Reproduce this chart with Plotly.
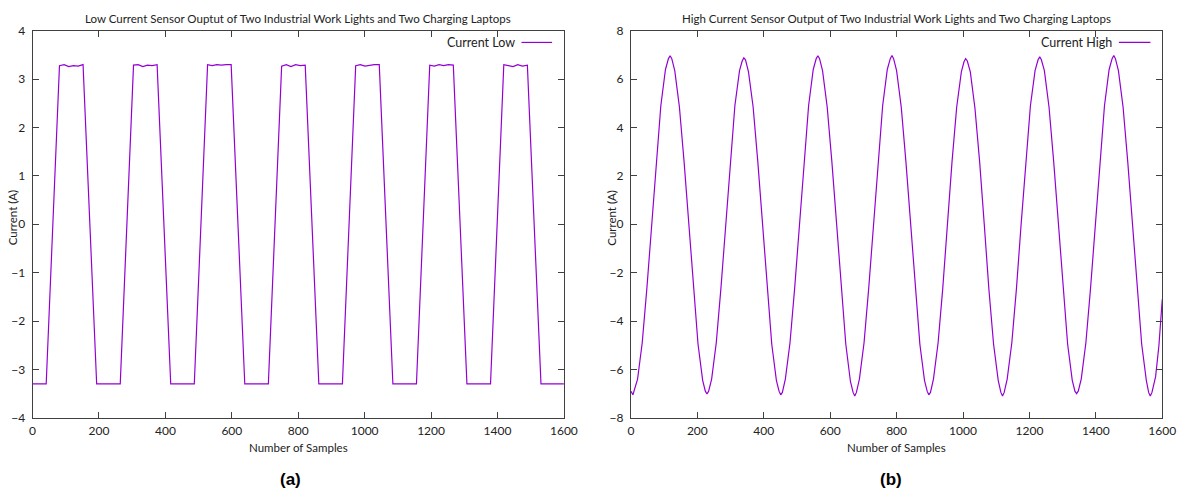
import plotly.graph_objects as go

W, H = 1194, 498

# ---------------- data ----------------
low_x = [0, 41, 81, 95, 109, 123, 137, 152, 193,
         264, 304, 318, 332, 346, 360, 375, 416,
         487, 527, 541, 555, 569, 583, 598, 639,
         710, 750, 764, 778, 792, 806, 821, 862,
         933, 973, 987, 1001, 1015, 1029, 1044, 1085,
         1156, 1196, 1210, 1224, 1238, 1252, 1267, 1308,
         1379, 1419, 1433, 1447, 1461, 1475, 1490, 1531,
         1600]
low_y = [-3.3, -3.3, 3.28, 3.30, 3.26, 3.28, 3.27, 3.30, -3.3,
         -3.3, 3.29, 3.30, 3.26, 3.29, 3.28, 3.30, -3.3,
         -3.3, 3.30, 3.28, 3.30, 3.29, 3.30, 3.30, -3.3,
         -3.3, 3.27, 3.30, 3.26, 3.30, 3.28, 3.29, -3.3,
         -3.3, 3.28, 3.30, 3.27, 3.29, 3.30, 3.30, -3.3,
         -3.3, 3.29, 3.27, 3.30, 3.28, 3.30, 3.29, -3.3,
         -3.3, 3.30, 3.28, 3.26, 3.30, 3.27, 3.29, -3.3,
         -3.3]

high_x = [0, 6,
          20, 34, 48, 62, 76, 90, 104, 113, 118, 123,
          132, 146, 160, 174, 188, 202, 216, 224, 229, 234,
          243, 257, 271, 285, 299, 313, 327, 335, 340, 345,
          354, 368, 382, 396, 410, 424, 438, 446, 451, 456,
          465, 479, 493, 507, 521, 535, 549, 558, 563, 568,
          577, 591, 605, 619, 633, 647, 661, 669, 674, 679,
          688, 702, 716, 730, 744, 758, 772, 781, 786, 791,
          800, 814, 828, 842, 856, 870, 884, 892, 897, 902,
          911, 925, 939, 953, 967, 981, 995, 1003, 1008, 1013,
          1022, 1036, 1050, 1064, 1078, 1092, 1106, 1114, 1119, 1124,
          1133, 1147, 1161, 1175, 1189, 1203, 1217, 1226, 1231, 1236,
          1245, 1259, 1273, 1287, 1301, 1315, 1329, 1337, 1342, 1347,
          1356, 1370, 1384, 1398, 1412, 1426, 1440, 1449, 1454, 1459,
          1468, 1482, 1496, 1510, 1524, 1538, 1552, 1559, 1564, 1569,
          1580, 1590, 1600]
high_y = [-6.9, -7.05,
          -6.4, -4.9, -2.65, 0.0, 2.65, 4.9, 6.4, 6.85, 6.97, 6.85,
          6.35, 4.85, 2.6, 0.0, -2.7, -4.95, -6.45, -6.9, -7.02, -6.9,
          -6.4, -4.9, -2.65, 0.0, 2.65, 4.9, 6.35, 6.75, 6.88, 6.8,
          6.3, 4.85, 2.6, 0.0, -2.7, -4.95, -6.45, -6.9, -7.05, -6.95,
          -6.4, -4.9, -2.65, 0.0, 2.65, 4.9, 6.4, 6.85, 6.97, 6.85,
          6.35, 4.85, 2.6, 0.0, -2.7, -4.95, -6.5, -6.95, -7.1, -6.95,
          -6.4, -4.9, -2.65, 0.0, 2.65, 4.9, 6.4, 6.85, 6.98, 6.85,
          6.35, 4.85, 2.6, 0.0, -2.7, -4.95, -6.45, -6.9, -7.05, -6.95,
          -6.4, -4.9, -2.65, 0.0, 2.6, 4.85, 6.3, 6.72, 6.85, 6.75,
          6.3, 4.8, 2.6, 0.0, -2.7, -4.95, -6.45, -6.95, -7.1, -6.95,
          -6.4, -4.9, -2.65, 0.0, 2.65, 4.9, 6.35, 6.8, 6.92, 6.8,
          6.35, 4.85, 2.6, 0.0, -2.7, -4.95, -6.45, -6.9, -7.0, -6.9,
          -6.4, -4.9, -2.65, 0.0, 2.65, 4.9, 6.4, 6.85, 6.98, 6.85,
          6.35, 4.85, 2.6, 0.0, -2.7, -4.95, -6.45, -6.95, -7.1, -6.95,
          -6.3, -5.0, -3.1]

x_ticks = [0, 200, 400, 600, 800, 1000, 1200, 1400, 1600]
low_ticks = [-4, -3, -2, -1, 0, 1, 2, 3, 4]
high_ticks = [-8, -6, -4, -2, 0, 2, 4, 6, 8]

title_a = "Low Current Sensor Ouptut of Two Industrial Work Lights and Two Charging Laptops"
title_b = "High Current Sensor Output of Two Industrial Work Lights and Two Charging Laptops"

# ---------------- style ----------------
PURPLE = "#9400d3"
AXC = "#404040"
FONT = "Lato, Open Sans, sans-serif"

def px(x):
    return x / W

def py(y):
    return 1 - y / H

L0, L1 = 30, 569
R0, R1 = 637, 1176
T0, B0 = 23.5, 422.5

fig = go.Figure()
fig.add_trace(go.Scatter(x=low_x, y=low_y, mode="lines", name="Current Low",
                         line=dict(color=PURPLE, width=1.2), xaxis="x", yaxis="y",
                         showlegend=False))
fig.add_trace(go.Scatter(x=high_x, y=high_y, mode="lines", name="Current High",
                         line=dict(color=PURPLE, width=1.2), xaxis="x2", yaxis="y2",
                         showlegend=False))

axis_common = dict(showline=True, linecolor=AXC, linewidth=1, mirror="ticks",
                   ticks="inside", ticklen=6, tickcolor=AXC, tickwidth=1,
                   showgrid=False, zeroline=False,
                   tickfont=dict(family=FONT, size=12, color="#222"))

fig.update_layout(
    width=W, height=H,
    margin=dict(l=0, r=0, t=0, b=0),
    paper_bgcolor="white", plot_bgcolor="white",
    xaxis=dict(domain=[px(L0), px(L1)], range=[0, 1600], tickvals=x_ticks,
               anchor="y", ticklabelstandoff=2, **axis_common),
    yaxis=dict(domain=[py(B0), py(T0)], range=[-4, 4], tickvals=low_ticks,
               anchor="x", ticklabelstandoff=4, **axis_common),
    xaxis2=dict(domain=[px(R0), px(R1)], range=[0, 1600], tickvals=x_ticks,
                anchor="y2", ticklabelstandoff=2, **axis_common),
    yaxis2=dict(domain=[py(B0), py(T0)], range=[-8, 8], tickvals=high_ticks,
                anchor="x2", ticklabelstandoff=4, **axis_common),
)

ann = []
def add_text(text, x, y, size, xanchor="center", bold=False, angle=0, family=FONT, color="#222"):
    ann.append(dict(text=("<b>%s</b>" % text) if bold else text,
                    x=px(x), y=py(y), xref="paper", yref="paper",
                    xanchor=xanchor, yanchor="middle", showarrow=False,
                    textangle=angle, font=dict(family=family, size=size, color=color)))

add_text(title_a, (L0 + L1) / 2, 11, 11.5)
add_text(title_b, (R0 + R1) / 2, 11, 11.5)
add_text("Number of Samples", (L0 + L1) / 2, 453, 11.5)
add_text("Number of Samples", (R0 + R1) / 2, 453, 11.5)
add_text("Current (A)", 10, 216, 11.5, angle=-90)
add_text("Current (A)", 617, 216, 11.5, angle=-90)
add_text("Current Low", 521, 35.5, 12.5, xanchor="right")
add_text("Current High", 1127, 35.5, 12.5, xanchor="right")
add_text("(a)", 292, 486, 17, bold=True, family="Liberation Sans, Arial, sans-serif", color="black")
add_text("(b)", 901, 486, 17, bold=True, family="Liberation Sans, Arial, sans-serif", color="black")
fig.update_layout(annotations=ann)

shapes = [
    dict(type="line", xref="paper", yref="paper", x0=px(526), x1=px(557),
         y0=py(35.5), y1=py(35.5), line=dict(color=PURPLE, width=1.2)),
    dict(type="line", xref="paper", yref="paper", x0=px(1132), x1=px(1164),
         y0=py(35.5), y1=py(35.5), line=dict(color=PURPLE, width=1.2)),
]
fig.update_layout(shapes=shapes)

fig.write_html("out.html")
